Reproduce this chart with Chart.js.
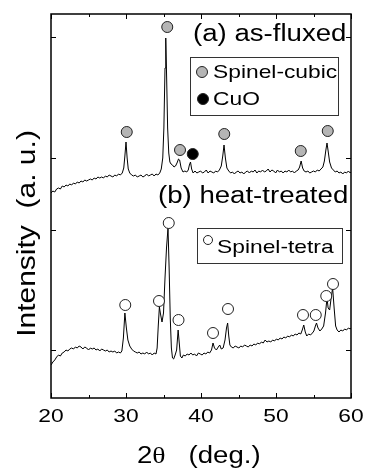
<!DOCTYPE html>
<html>
<head>
<meta charset="utf-8">
<script src="https://cdn.jsdelivr.net/npm/chart.js@4.4.1/dist/chart.umd.min.js"></script>
<style>
  html, body { margin: 0; padding: 0; background: #fff; }
  #wrap { width: 365px; height: 468px; }
</style>
</head>
<body>
<div id="wrap"><canvas id="xrdChart"></canvas></div>
<script>
"use strict";

// 2theta (deg.) / intensity (a.u.) pairs
const asFluxedScan = [
  [20.00, 205], [20.25, 207], [20.50, 206], [20.75, 209], [21.00, 210], [21.25, 209],
  [21.50, 212], [21.75, 211], [22.00, 213], [22.25, 212], [22.50, 214], [22.75, 213],
  [23.00, 215], [23.25, 214], [23.50, 216], [23.75, 215], [24.00, 217], [24.25, 216],
  [24.50, 218], [24.75, 217], [25.00, 218], [25.25, 219], [25.50, 218], [25.75, 220],
  [26.00, 219], [26.25, 221], [26.50, 220], [26.75, 221], [27.00, 220], [27.25, 222],
  [27.50, 221], [27.75, 223], [28.00, 222], [28.25, 221], [28.50, 223], [28.75, 222],
  [29.00, 224], [29.25, 223], [29.50, 225], [29.70, 230], [29.85, 242], [30.00, 256],
  [30.15, 240], [30.30, 229], [30.50, 225], [30.75, 223], [31.00, 222], [31.25, 223],
  [31.50, 221], [31.75, 222], [32.00, 223], [32.25, 221], [32.50, 222], [32.75, 224],
  [33.00, 222], [33.25, 223], [33.50, 224], [33.75, 222], [34.00, 224], [34.25, 223],
  [34.50, 225], [34.70, 229], [34.90, 240], [35.05, 270], [35.20, 330], [35.30, 360],
  [35.42, 320], [35.55, 270], [35.70, 245], [35.85, 236], [36.00, 234], [36.20, 233],
  [36.40, 231], [36.60, 232], [36.80, 235], [37.00, 239], [37.15, 238], [37.35, 230],
  [37.60, 226], [37.85, 227], [38.10, 226], [38.30, 228], [38.45, 233], [38.60, 236],
  [38.75, 229], [38.95, 225], [39.20, 227], [39.45, 225], [39.70, 226], [39.95, 227],
  [40.20, 225], [40.45, 226], [40.70, 228], [40.95, 225], [41.20, 227], [41.45, 226],
  [41.70, 225], [41.95, 227], [42.20, 226], [42.45, 228], [42.70, 232], [42.90, 242],
  [43.07, 253], [43.25, 240], [43.45, 230], [43.70, 227], [43.95, 225], [44.20, 226],
  [44.45, 224], [44.70, 226], [44.95, 227], [45.20, 225], [45.45, 226], [45.70, 224],
  [45.95, 226], [46.20, 227], [46.45, 225], [46.70, 227], [46.95, 226], [47.20, 228],
  [47.45, 225], [47.70, 227], [47.95, 226], [48.20, 228], [48.45, 226], [48.70, 227],
  [48.95, 229], [49.20, 226], [49.45, 228], [49.70, 227], [49.95, 225], [50.20, 228],
  [50.45, 226], [50.70, 227], [50.95, 225], [51.20, 227], [51.45, 226], [51.70, 228],
  [51.95, 226], [52.20, 227], [52.45, 225], [52.70, 227], [52.95, 228], [53.15, 231],
  [53.35, 237], [53.55, 230], [53.75, 227], [54.00, 226], [54.25, 227], [54.50, 225],
  [54.75, 226], [55.00, 227], [55.25, 226], [55.50, 228], [55.75, 227], [56.00, 229],
  [56.25, 231], [56.45, 237], [56.65, 248], [56.80, 255], [56.95, 247], [57.15, 236],
  [57.40, 230], [57.65, 228], [57.90, 226], [58.15, 227], [58.40, 225], [58.65, 226],
  [58.90, 224], [59.15, 226], [59.40, 225], [59.65, 227], [59.90, 225], [60.00, 226]
];

const heatTreatedScan = [
  [20.00, 33], [20.25, 36], [20.50, 38], [20.75, 41], [21.00, 43], [21.25, 42],
  [21.50, 45], [21.75, 46], [22.00, 48], [22.25, 47], [22.50, 49], [22.75, 50],
  [23.00, 49], [23.25, 51], [23.50, 50], [23.75, 52], [24.00, 51], [24.25, 49],
  [24.50, 51], [24.75, 50], [25.00, 48], [25.25, 50], [25.50, 49], [25.75, 50],
  [26.00, 48], [26.25, 49], [26.50, 47], [26.75, 49], [27.00, 48], [27.25, 47],
  [27.50, 48], [27.75, 46], [28.00, 47], [28.25, 46], [28.50, 47], [28.75, 45],
  [29.00, 46], [29.25, 45], [29.45, 47], [29.65, 60], [29.85, 85], [30.05, 70],
  [30.25, 58], [30.50, 52], [30.75, 49], [31.00, 47], [31.25, 46], [31.50, 45],
  [31.75, 46], [32.00, 44], [32.25, 45], [32.50, 44], [32.75, 46], [33.00, 44],
  [33.25, 45], [33.50, 43], [33.75, 45], [34.00, 44], [34.15, 50], [34.30, 72],
  [34.45, 91], [34.60, 84], [34.80, 76], [35.00, 85], [35.20, 120], [35.40, 150],
  [35.60, 170], [35.75, 130], [35.90, 80], [36.05, 50], [36.20, 40], [36.35, 39],
  [36.55, 43], [36.75, 48], [36.95, 68], [37.10, 55], [37.25, 42], [37.45, 40],
  [37.65, 43], [37.90, 42], [38.15, 44], [38.40, 43], [38.65, 45], [38.90, 43],
  [39.15, 44], [39.40, 42], [39.65, 45], [39.90, 44], [40.15, 43], [40.40, 45],
  [40.65, 44], [40.90, 46], [41.15, 45], [41.40, 48], [41.60, 55], [41.80, 50],
  [42.05, 48], [42.30, 51], [42.50, 53], [42.70, 49], [42.95, 50], [43.20, 58],
  [43.40, 70], [43.55, 75], [43.70, 62], [43.85, 53], [44.05, 51], [44.30, 50],
  [44.55, 52], [44.80, 51], [45.05, 50], [45.30, 52], [45.55, 51], [45.80, 53],
  [46.05, 52], [46.30, 51], [46.55, 53], [46.80, 52], [47.05, 54], [47.30, 53],
  [47.55, 55], [47.80, 54], [48.05, 56], [48.30, 55], [48.55, 58], [48.80, 56],
  [49.05, 57], [49.30, 56], [49.55, 58], [49.80, 57], [50.05, 59], [50.30, 58],
  [50.55, 60], [50.80, 59], [51.05, 61], [51.30, 60], [51.55, 62], [51.80, 61],
  [52.05, 63], [52.30, 62], [52.55, 64], [52.80, 63], [53.05, 65], [53.30, 64],
  [53.50, 68], [53.70, 73], [53.90, 66], [54.10, 62], [54.35, 64], [54.60, 63],
  [54.85, 65], [55.05, 67], [55.25, 72], [55.40, 75], [55.60, 70], [55.85, 67],
  [56.10, 69], [56.35, 72], [56.60, 85], [56.80, 100], [56.95, 90], [57.15, 88],
  [57.35, 100], [57.55, 110], [57.75, 90], [57.95, 72], [58.15, 68], [58.40, 66],
  [58.65, 68], [58.90, 67], [59.15, 69], [59.40, 68], [59.65, 70], [59.90, 69],
  [60.00, 70]
];

// Phase markers (angle, height of the circle)
const spinelCubicAngle = [30.1, 35.5, 37.2, 43.1, 53.3, 56.9];
const spinelCubicHeight = [266, 371, 248, 264, 247, 267];
const cuoAngle = [38.9];
const cuoHeight = [244];
const spinelTetraAngle = [29.9, 34.4, 35.7, 37.0, 41.6, 43.6, 53.6, 55.3, 56.7, 57.6];
const spinelTetraHeight = [93, 97, 175, 78, 65, 89, 83, 83, 102, 114];

// Axis ticks
const xTickLabels = [20, 30, 40, 50, 60];
const xMinorTicks = [25, 35, 45, 55];
const yTickValues = [48, 168, 240, 361];

const SANS = "'Liberation Sans', Arial, sans-serif";
const SERIF = "'Liberation Serif', 'DejaVu Serif', serif";
const STRETCH = 1.2; // the source lettering is wide

const GRAY = "#b5b5b5";

const toPoints = (angles, values) => angles.map((a, i) => ({ x: a, y: values[i] }));
const scanPoints = (scan) => scan.map(([a, v]) => ({ x: a, y: v }));

/**
 * Writes horizontally stretched text.
 */
const drawText = (ctx, text, x, y, size, align = "left", family = SANS) => {
  ctx.save();
  ctx.translate(x, y);
  ctx.scale(STRETCH, 1);
  ctx.font = `${size}px ${family}`;
  ctx.textAlign = align;
  ctx.textBaseline = "alphabetic";
  ctx.fillStyle = "#000";
  ctx.fillText(text, 0, 0);
  ctx.restore();
};

const drawDot = (ctx, x, y, r, fill) => {
  ctx.beginPath();
  ctx.arc(x, y, r, 0, Math.PI * 2);
  ctx.fillStyle = fill;
  ctx.fill();
  ctx.lineWidth = 1;
  ctx.strokeStyle = "#222";
  ctx.stroke();
};

/**
 * Frame, inward ticks, labels and the two in-plot legends.
 */
const decorations = {
  id: "decorations",
  afterDraw(chart) {
    const { ctx, chartArea: area, scales } = chart;
    const xs = scales.x;
    const ys = scales.y;

    ctx.save();
    ctx.strokeStyle = "#000";
    ctx.lineWidth = 1.5;
    ctx.strokeRect(area.left, area.top, area.right - area.left, area.bottom - area.top);

    // ticks on all four sides, pointing inward
    ctx.lineWidth = 1;
    const tick = (x1, y1, x2, y2) => {
      ctx.beginPath();
      ctx.moveTo(x1, y1);
      ctx.lineTo(x2, y2);
      ctx.stroke();
    };
    xTickLabels.forEach((v) => {
      const px = Math.round(xs.getPixelForValue(v)) + 0.5;
      tick(px, area.bottom, px, area.bottom - 5);
      tick(px, area.top, px, area.top + 5);
    });
    xMinorTicks.forEach((v) => {
      const px = Math.round(xs.getPixelForValue(v)) + 0.5;
      tick(px, area.bottom, px, area.bottom - 3);
      tick(px, area.top, px, area.top + 3);
    });
    yTickValues.forEach((v) => {
      const py = Math.round(ys.getPixelForValue(v)) + 0.5;
      tick(area.left, py, area.left + 5, py);
      tick(area.right, py, area.right - 5, py);
    });

    // tick labels
    xTickLabels.forEach((v) => {
      drawText(ctx, String(v), xs.getPixelForValue(v), area.bottom + 24, 19, "center");
    });

    // x title: 2θ   (deg.)
    let tx = 137;
    const ty = 463;
    drawText(ctx, "2", tx, ty, 23);
    ctx.font = `23px ${SANS}`;
    tx += ctx.measureText("2").width * STRETCH;
    drawText(ctx, "\u03b8", tx, ty, 23, "left", SERIF);
    ctx.font = `23px ${SERIF}`;
    tx += ctx.measureText("\u03b8").width * STRETCH;
    drawText(ctx, "   (deg.)", tx, ty, 23);

    // y title, rotated
    ctx.save();
    ctx.translate(35, 233.5);
    ctx.rotate(-Math.PI / 2);
    drawText(ctx, "Intensity  (a. u.)", 0, 0, 25, "center");
    ctx.restore();

    // panel headings
    drawText(ctx, "(a) as-fluxed", 193, 41, 23);
    drawText(ctx, "(b) heat-treated", 158, 203, 23);

    // legend boxes
    ctx.strokeStyle = "#333";
    ctx.lineWidth = 1;
    ctx.strokeRect(190.5, 57.5, 148, 58);
    drawDot(ctx, 202, 72, 5.5, GRAY);
    drawText(ctx, "Spinel-cubic", 213, 78, 19);
    drawDot(ctx, 203, 99, 5.5, "#000");
    drawText(ctx, "CuO", 213, 105, 19);

    ctx.strokeStyle = "#333";
    ctx.strokeRect(197.5, 228.5, 145, 35);
    drawDot(ctx, 208, 240, 4.5, "#fff");
    drawText(ctx, "Spinel-tetra", 217, 253, 19);
    ctx.restore();
  }
};

const markerSet = (label, angles, heights, fill) => ({
  label: label,
  data: toPoints(angles, heights),
  showLine: false,
  pointRadius: 5.5,
  pointBackgroundColor: fill,
  pointBorderColor: "#222",
  pointBorderWidth: 1
});

const traceSet = (label, scan) => ({
  label: label,
  data: scanPoints(scan),
  showLine: true,
  borderColor: "#000",
  borderWidth: 1,
  pointRadius: 0,
  tension: 0
});

const renderChart = () => {
  const ctx = document.getElementById("xrdChart").getContext("2d");

  new Chart(ctx, {
    type: "scatter",
    data: {
      datasets: [
        markerSet("Spinel-cubic", spinelCubicAngle, spinelCubicHeight, GRAY),
        markerSet("CuO", cuoAngle, cuoHeight, "#000"),
        markerSet("Spinel-tetra", spinelTetraAngle, spinelTetraHeight, "#fff"),
        traceSet("as-fluxed", asFluxedScan),
        traceSet("heat-treated", heatTreatedScan)
      ]
    },
    options: {
      responsive: true,
      maintainAspectRatio: false,
      animation: false,
      devicePixelRatio: 1,
      layout: { padding: { top: 14, right: 14, left: 0, bottom: 0 } },
      plugins: {
        legend: { display: false },
        tooltip: { enabled: false }
      },
      scales: {
        x: {
          type: "linear",
          min: 20,
          max: 60,
          ticks: { display: false, stepSize: 10 },
          grid: { display: false },
          border: { display: false },
          afterFit: (scale) => { scale.height = 70; }
        },
        y: {
          type: "linear",
          min: 0,
          max: 384,
          ticks: { display: false },
          grid: { display: false },
          border: { display: false },
          afterBuildTicks: (scale) => {
            scale.ticks = yTickValues.map((v) => ({ value: v }));
          },
          afterFit: (scale) => { scale.width = 51; }
        }
      }
    },
    plugins: [decorations]
  });
};

document.addEventListener("DOMContentLoaded", renderChart);
</script>
</body>
</html>
